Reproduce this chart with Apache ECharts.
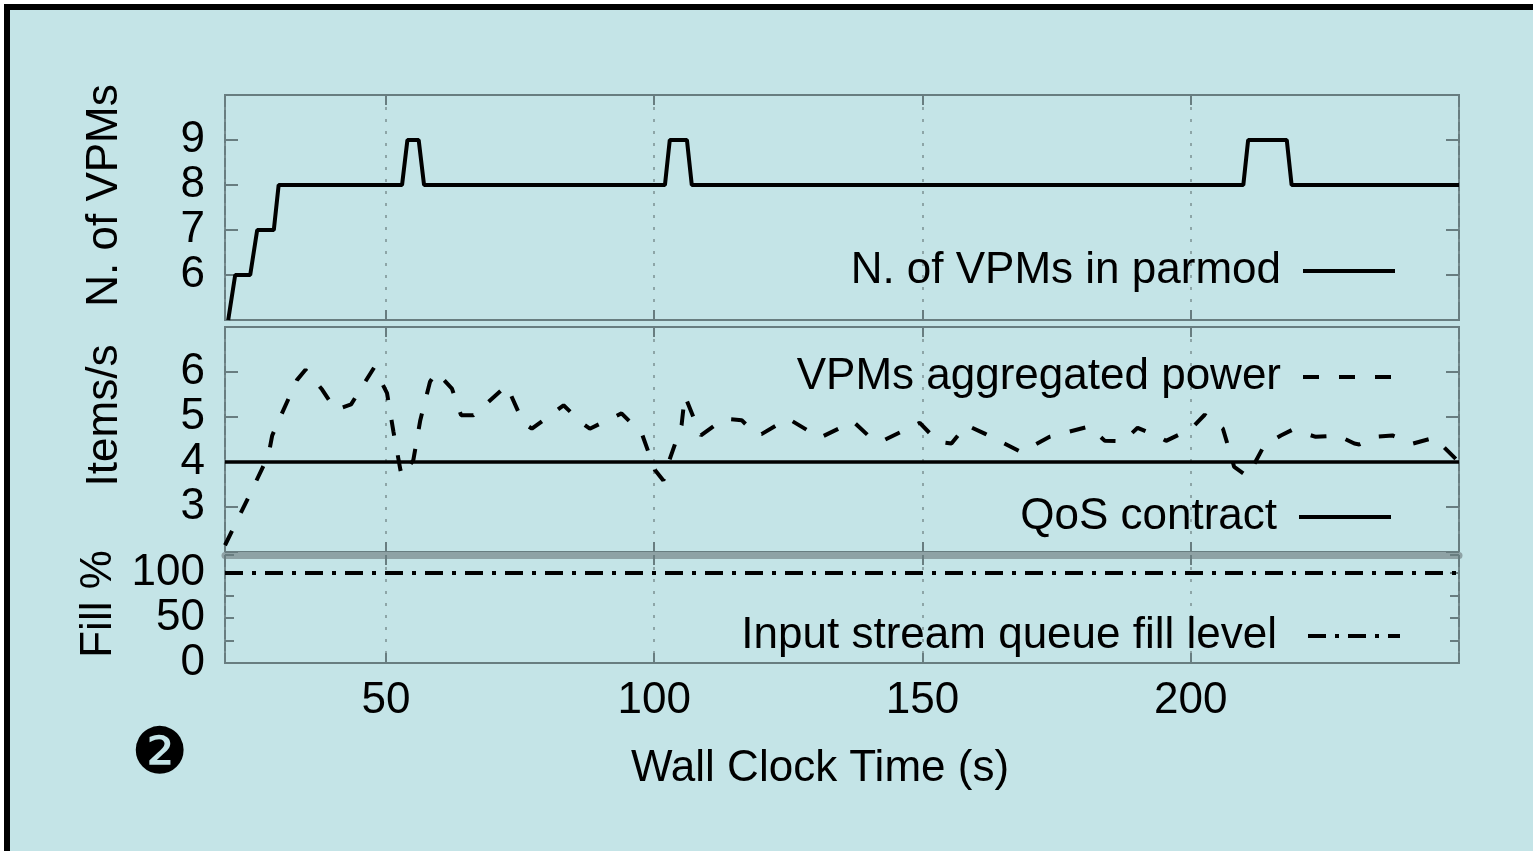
<!DOCTYPE html>
<html><head><meta charset="utf-8">
<script src="https://cdn.jsdelivr.net/npm/echarts@6/dist/echarts.min.js"></script>
<style>
html,body{margin:0;padding:0;overflow:hidden;background:#fff;width:1533px;height:851px;}
#frame{position:absolute;left:4px;top:4px;width:1700px;height:1000px;border:6px solid #000;background:#c4e4e7;}
#chart{position:absolute;left:0;top:0;width:1533px;height:851px;}
</style></head><body><div id="frame"></div><div id="chart"></div>
<script>
// ---- data ----
const vpmTime  = [20.6, 21.9, 24.7, 26.0, 29.1, 30.0, 53.0, 54.0, 56.1, 57.1, 102.0, 102.9, 106.1, 107.0, 209.8, 210.7, 217.9, 218.8, 250];
const vpmCount = [5, 6, 6, 7, 7, 8, 8, 9, 9, 8, 8, 9, 9, 8, 8, 9, 9, 8, 8];

const powerTime  = [20.0, 25.0, 28.1, 28.8, 30.3, 33.4, 35.0, 38.1, 40.6, 43.5, 47.8, 50.2, 51.4, 52.7, 53.0, 55.1, 56.4, 58.2, 59.4, 62.3, 64.0, 66.3, 72.5, 75.6, 77.2, 83.1, 86.8, 88.0, 93.9, 97.7, 100.1, 101.7, 102.6, 105.1, 105.7, 107.3, 108.7, 112.6, 113.5, 116.3, 118.8, 120.0, 124.4, 125.0, 130.9, 137.1, 140.5, 142.7, 149.5, 152.9, 155.4, 158.2, 161.6, 168.4, 173.7, 181.1, 184.0, 187.4, 190.1, 193.9, 195.4, 200.1, 202.6, 206.0, 208.1, 210.6, 213.7, 216.8, 219.0, 223.3, 227.4, 230.5, 231.4, 234.5, 237.6, 241.4, 244.8, 245.4, 250.0];
const powerValue = [2.15, 3.37, 4.15, 4.59, 5.00, 5.82, 6.05, 5.61, 5.16, 5.28, 6.10, 5.53, 4.67, 3.82, 3.69, 4.04, 4.93, 5.78, 6.00, 5.63, 5.04, 5.04, 5.70, 4.87, 4.74, 5.26, 4.84, 4.74, 5.08, 4.63, 3.83, 3.59, 3.96, 4.82, 5.47, 5.00, 4.59, 4.93, 4.96, 4.93, 4.63, 4.62, 4.93, 4.96, 4.54, 4.90, 4.52, 4.48, 4.87, 4.45, 4.41, 4.82, 4.63, 4.22, 4.56, 4.79, 4.47, 4.46, 4.76, 4.57, 4.47, 4.74, 5.05, 4.74, 3.89, 3.68, 4.37, 4.59, 4.72, 4.56, 4.59, 4.41, 4.39, 4.56, 4.59, 4.41, 4.52, 4.54, 4.00];

const qosTime  = [20, 250];
const qosValue = [4, 4];

const fillTime  = [20, 250];
const fillValue = [100, 100];

const xTickLabels  = [50, 100, 150, 200];
const vpmTickLabels = [6, 7, 8, 9];
const powerTickLabels = [3, 4, 5, 6];
const fillTickLabels = [0, 50, 100];

// ---- helpers ----
const zip = (a, b) => a.map((v, i) => [v, b[i]]);
const FONT = 'Liberation Sans';
const BORDER = '#687d80';
const TXT = {fontFamily: FONT, fontSize: 44, color: '#000'};

const grids = [
  {left: 225, right: 74, top: 95, height: 225},
  {left: 225, right: 74, top: 327, height: 225},
  {left: 225, right: 74, top: 555, height: 108}
].map(g => Object.assign(g, {show: true, borderColor: BORDER, borderWidth: 2, backgroundColor: 'transparent'}));

const xAxes = [];
for (let i = 0; i < 3; i++) {
  xAxes.push({
    type: 'value', gridIndex: i, position: 'bottom', min: 20, max: 250, splitNumber: 5,
    axisLine: {show: false, onZero: false},
    axisTick: {show: true, inside: true, length: 10, lineStyle: {color: BORDER, width: 2}},
    axisLabel: i === 2 ? {show: true, margin: 16, ...TXT, formatter: v => xTickLabels.includes(v) ? String(v) : ''} : {show: false},
    splitLine: {show: true, lineStyle: {color: '#7b9093', width: 1.5, type: [3, 9]}},
    name: i === 2 ? 'Wall Clock Time (s)' : '',
    nameLocation: 'middle', nameGap: 84,
    nameTextStyle: {...TXT, padding: [0, 44, 0, 0]}
  });
  xAxes.push({
    type: 'value', gridIndex: i, position: 'top', min: 20, max: 250, splitNumber: 5,
    axisLine: i === 2 ? {show: true, onZero: false, lineStyle: {color: '#8ea2a5', width: 7}} : {show: false, onZero: false},
    axisTick: {show: true, inside: true, length: 10, lineStyle: {color: BORDER, width: 2}},
    axisLabel: {show: false},
    splitLine: {show: false}
  });
}

const yDefs = [
  {min: 5, max: 10, interval: 1, labels: vpmTickLabels, name: 'N. of VPMs', pad: 24, tick: 13},
  {min: 2, max: 7, interval: 1, labels: powerTickLabels, name: 'Items/s', pad: 48, tick: 13},
  {min: 0, max: 120, interval: 25, labels: fillTickLabels, name: 'Fill %', pad: 10, tick: 9}
];
const yAxes = [];
yDefs.forEach((d, i) => {
  yAxes.push({
    type: 'value', gridIndex: i, position: 'left', min: d.min, max: d.max, interval: d.interval,
    axisLine: {show: false, onZero: false},
    axisTick: {show: true, inside: true, length: d.tick, lineStyle: {color: BORDER, width: 2}},
    axisLabel: {show: true, margin: 20, ...TXT, formatter: v => d.labels.includes(v) ? String(v) : ''},
    splitLine: {show: false},
    name: d.name, nameLocation: 'middle', nameGap: 98,
    nameTextStyle: {...TXT, padding: [0, 0, 0, d.pad]}
  });
  yAxes.push({
    type: 'value', gridIndex: i, position: 'right', min: d.min, max: d.max, interval: d.interval,
    axisLine: {show: false, onZero: false},
    axisTick: {show: true, inside: true, length: d.tick, lineStyle: {color: BORDER, width: 2}},
    axisLabel: {show: false},
    splitLine: {show: false}
  });
});

const legendBase = {
  orient: 'horizontal', align: 'right', itemWidth: 92, itemHeight: 20, padding: 0,
  selectedMode: false, itemStyle: {opacity: 0}, lineStyle: {width: 4},
  textStyle: {...TXT, padding: [0, 17, 0, 0]}
};
const legends = [
  {data: ['N. of VPMs in parmod'], right: 136, top: 249},
  {data: ['VPMs aggregated power'], right: 136, top: 355},
  {data: ['QoS contract'], right: 140, top: 495},
  {data: ['Input stream queue fill level'], right: 131, top: 614, textStyle: {...TXT, padding: [0, 26, 0, 0]}}
].map(l => Object.assign({}, legendBase, l));

const option = {
  animation: false,
  backgroundColor: 'transparent',
  title: {text: '❷', left: 131, top: 724, padding: 0,
    textStyle: {fontFamily: 'DejaVu Sans', fontSize: 64, fontWeight: 'normal', color: '#000'}},
  grid: grids,
  xAxis: xAxes,
  yAxis: yAxes,
  legend: legends,
  series: [
    {name: 'N. of VPMs in parmod', type: 'line', xAxisIndex: 0, yAxisIndex: 0, data: zip(vpmTime, vpmCount),
      symbol: 'none', lineStyle: {color: '#000', width: 4}, itemStyle: {color: '#000'}},
    {name: 'VPMs aggregated power', type: 'line', xAxisIndex: 2, yAxisIndex: 2, data: zip(powerTime, powerValue),
      symbol: 'none', lineStyle: {color: '#000', width: 4, type: [16, 20]}, itemStyle: {color: '#000'}},
    {name: 'QoS contract', type: 'line', xAxisIndex: 2, yAxisIndex: 2, data: zip(qosTime, qosValue),
      symbol: 'none', lineStyle: {color: '#000', width: 3.5}, itemStyle: {color: '#000'}},
    {name: 'Input stream queue fill level', type: 'line', xAxisIndex: 4, yAxisIndex: 4, data: zip(fillTime, fillValue),
      symbol: 'none', lineStyle: {color: '#000', width: 4, type: [18, 9, 4, 9]}, itemStyle: {color: '#000'}}
  ]
};
const chart = echarts.init(document.getElementById('chart'), null, {renderer: 'canvas'});
chart.setOption(option);
</script></body></html>
